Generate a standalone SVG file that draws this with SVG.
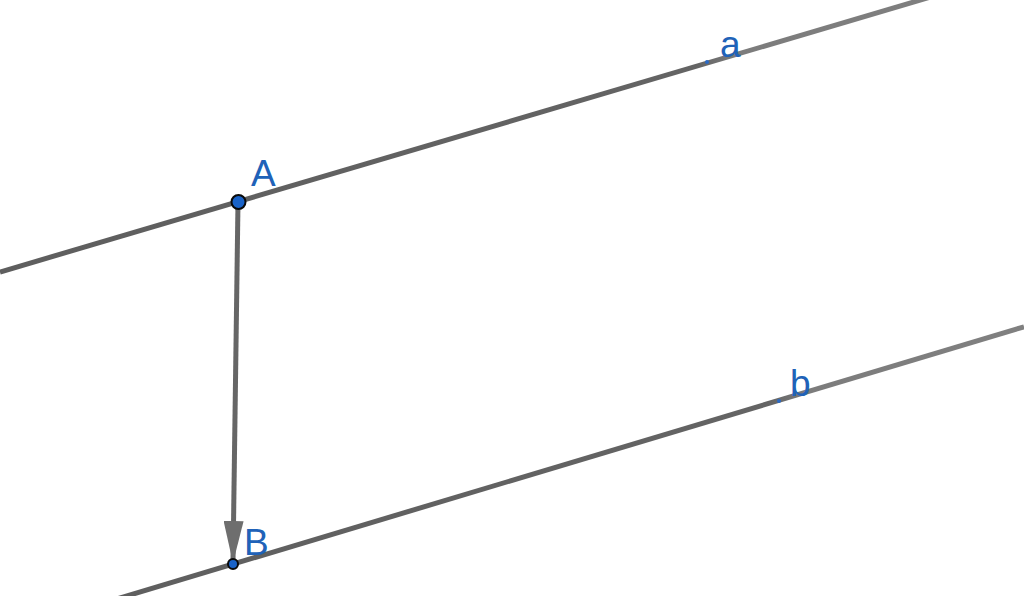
<svg xmlns="http://www.w3.org/2000/svg" width="1024" height="596" viewBox="0 0 1024 596">
<style>
.ln{stroke-width:5;fill:none;stroke-linecap:butt}
.lbl{font-family:"Liberation Sans",Arial,sans-serif;font-size:37px;fill:#2062b8}
.pt{fill:#1a63c8;stroke:#0a0a0a;stroke-width:2}
.sp{fill:#2a6ac6}
</style>
<defs>
<linearGradient id="ga" gradientUnits="userSpaceOnUse" x1="0" y1="0" x2="1024" y2="0">
<stop offset="0" stop-color="#5e5e5e"/><stop offset="0.68" stop-color="#646464"/><stop offset="0.72" stop-color="#7c7c7c"/><stop offset="1" stop-color="#808080"/>
</linearGradient>
<linearGradient id="gb" gradientUnits="userSpaceOnUse" x1="0" y1="0" x2="1024" y2="0">
<stop offset="0" stop-color="#5e5e5e"/><stop offset="0.75" stop-color="#646464"/><stop offset="0.79" stop-color="#7c7c7c"/><stop offset="1" stop-color="#808080"/>
</linearGradient>
<marker id="ah" markerUnits="userSpaceOnUse" markerWidth="42" markerHeight="20" refX="40" refY="10" orient="auto" viewBox="0 0 42 20">
<path d="M0,0 L42,10 L0,20 Z" fill="#6e6e6e"/>
</marker>
</defs>
<g id="connectors">
<line id="line-a" class="ln" x1="0" y1="272" x2="1024" y2="-30.6" stroke="url(#ga)"/>
<line id="line-b" class="ln" x1="0" y1="634" x2="1024" y2="326.8" stroke="url(#gb)"/>
<line id="vector-AB" x1="238" y1="202" x2="233" y2="561" stroke="#666" stroke-width="5" marker-end="url(#ah)"/>
</g>
<g id="node-a">
<circle class="sp" cx="707" cy="62" r="2"/>
<text class="lbl" x="720" y="57">a</text>
</g>
<g id="node-b">
<circle class="sp" cx="779" cy="401" r="2"/>
<text class="lbl" x="790" y="396">b</text>
</g>
<g id="node-A">
<circle class="pt" cx="238.5" cy="202" r="7"/>
<text class="lbl" x="251" y="186">A</text>
</g>
<g id="node-B">
<circle class="pt" cx="233" cy="564" r="5"/>
<text class="lbl" x="244" y="555">B</text>
</g>
</svg>
